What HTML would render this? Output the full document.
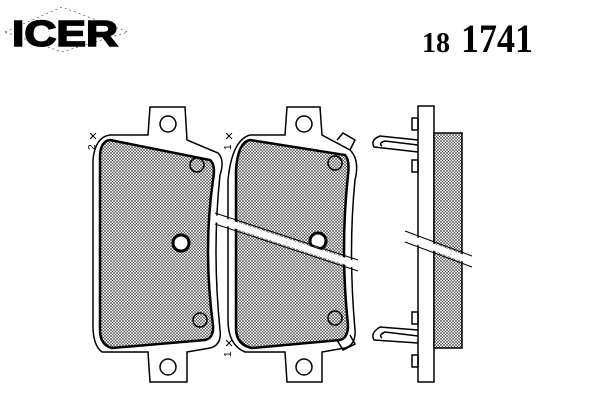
<!DOCTYPE html>
<html><head><meta charset="utf-8"><style>
body{margin:0;background:#fff;width:600px;height:400px;overflow:hidden}
svg{display:block}
</style></head><body>
<svg width="600" height="400" viewBox="0 0 600 400" xmlns="http://www.w3.org/2000/svg">
<defs>
<pattern id="h" width="3" height="3" patternUnits="userSpaceOnUse">
<rect width="3" height="3" fill="#fff"/>
<path d="M0,0L3,3M3,0L0,3" stroke="#444" stroke-width="0.6"/>
</pattern>
</defs>
<text x="12" y="46" font-family="Liberation Sans, sans-serif" font-weight="bold" font-size="36" fill="#000" stroke="#000" stroke-width="1.6" textLength="106" lengthAdjust="spacingAndGlyphs">ICER</text>
<path d="M5,32 L62,7 L128,32 L62,52 Z" fill="none" stroke="#000" stroke-width="0.5" stroke-dasharray="2,3"/>
<text x="422" y="52" font-family="Liberation Serif, serif" font-weight="bold" font-size="28">18</text>
<text x="461" y="52" font-family="Liberation Serif, serif" font-weight="bold" font-size="40" textLength="72" lengthAdjust="spacingAndGlyphs">1741</text>

<g fill="none" stroke="#000" stroke-width="1.5">
<path d="M150,107 L185,107 L187,140 L218,153 Q225,160 220,175 Q212,250 220,330 Q222,345 210,348 L187,352 L187,382 L150,382 L148,352 L102,352 Q92,345 93,320 L93,160 Q95,137 110,135 L148,135 Z" fill="#fff"/>
<path d="M110,140 L210,160 Q216,165 213,180 Q203,250 213,325 Q214,338 205,340 L112,348 Q100,345 100,330 L100,155 Q101,141 110,140 Z" fill="url(#h)" stroke-width="2.5"/>
<circle cx="168" cy="124" r="8"/><circle cx="168" cy="367" r="8"/>
<circle cx="197" cy="165" r="7"/><circle cx="200" cy="320" r="7"/>
<circle cx="181" cy="243" r="8" stroke-width="3" fill="#fff"/>
<path d="M287,107 L320,107 L322,135 L350,150 Q360,160 355,180 Q348,250 355,330 Q356,345 345,348 L322,352 L322,382 L287,382 L285,352 L245,352 Q228,345 228,320 L228,180 Q232,140 250,135 L285,135 Z" fill="#fff"/>
<path d="M250,140 L345,155 Q350,160 348,175 Q340,250 348,325 Q348,338 340,340 L252,348 Q237,345 236,330 L236,170 Q238,142 250,140 Z" fill="url(#h)" stroke-width="2.5"/>
<circle cx="304" cy="124" r="8"/><circle cx="304" cy="367" r="8"/>
<circle cx="335" cy="163" r="7"/><circle cx="335" cy="318" r="7"/>
<circle cx="318" cy="241" r="8" stroke-width="3" fill="#fff"/>
<path d="M337,140 L343,133 L355,140 L350,150"/>
<path d="M337,340 L343,350 L355,344 L350,335"/>
<rect x="418" y="106" width="16" height="276" fill="#fff"/>
<rect x="434" y="133" width="28" height="215" fill="url(#h)"/>
<rect x="412" y="118" width="6" height="12"/><rect x="412" y="160" width="6" height="12"/>
<rect x="412" y="312" width="6" height="12"/><rect x="412" y="355" width="6" height="12"/>
<path d="M418,140 L380,136 Q370,140 374,147 L418,152"/>
<path d="M418,145 L385,141 Q378,143 382,146"/>
<path d="M418,330 L380,327 Q370,333 374,340 L418,343"/>
<path d="M418,336 L385,332 Q378,335 382,338"/>
</g>
<g stroke="#000" stroke-width="1" fill="none">
<path d="M90,133 l6,6 M96,133 l-6,6"/>
<path d="M226,133 l6,6 M232,133 l-6,6"/>
<path d="M226,340 l6,6 M232,340 l-6,6"/>
</g>
<text x="95" y="150" font-family="Liberation Sans, sans-serif" font-size="10" transform="rotate(-90 95 150)">2</text>
<text x="231" y="150" font-family="Liberation Sans, sans-serif" font-size="10" transform="rotate(-90 231 150)">1</text>
<text x="231" y="357" font-family="Liberation Sans, sans-serif" font-size="10" transform="rotate(-90 231 357)">1</text>
<path d="M215,215 L358,262 L358,269 L215,222 Z" fill="#fff"/>
<path d="M215,213 L358,260 M215,224 L358,271" stroke="#000" stroke-width="1"/>
<path d="M405,233 L472,258 L472,265 L405,240 Z" fill="#fff"/>
<path d="M405,231 L472,256 M405,242 L472,267" stroke="#000" stroke-width="1"/>
</svg>
</body></html>
